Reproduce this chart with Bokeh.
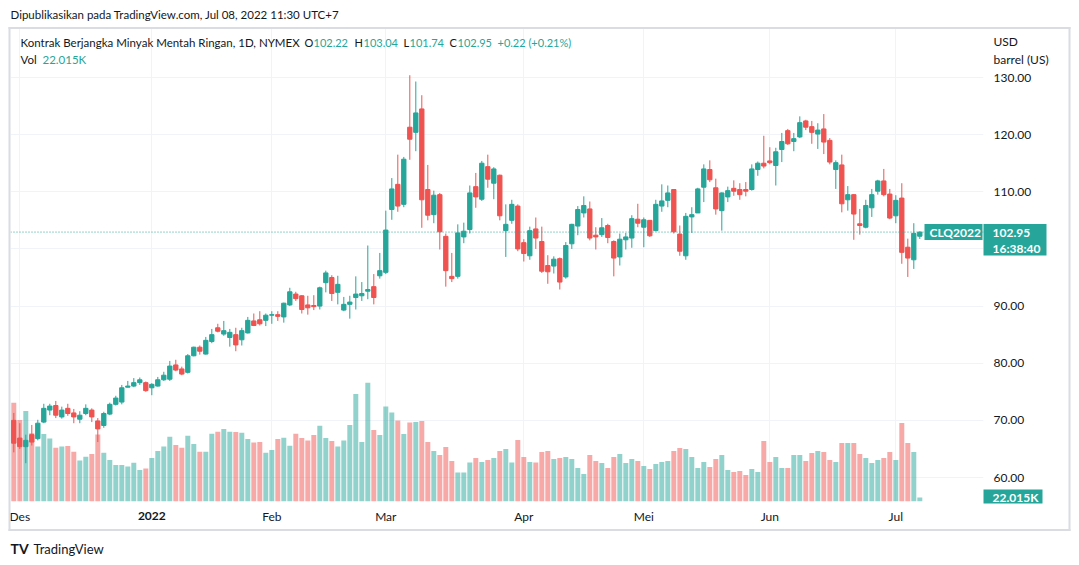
from bokeh.plotting import figure
from bokeh.models import Range1d, FixedTicker, Span, ColumnDataSource, PrintfTickFormatter
from bokeh.core.properties import value
from bokeh.embed import file_html
from bokeh.resources import INLINE

# ---------------- data ----------------
opens = [70.0, 66.9, 65.4, 67.5, 66.8, 69.7, 71.8, 72.6, 70.6, 72.1,
         71.3, 70.2, 71.2, 71.8, 69.9, 69.1, 71.1, 72.8, 73.2, 75.8,
         76.0, 76.6, 76.6, 75.7, 76.0, 77.1, 77.2, 79.7, 79.0, 78.4,
         81.3, 82.8, 81.6, 83.8, 86.2, 85.1, 84.5, 85.0, 84.1, 85.3,
         87.4, 87.6, 87.5, 88.4, 88.5, 88.1, 90.2, 92.1, 91.8, 90.2,
         90.1, 90.0, 94.1, 95.0, 92.4, 89.3, 90.3, 91.5, 91.8, 92.6,
         93.4, 95.3, 95.9, 106.9, 111.3, 107.8, 121.3, 120.4, 124.5, 110.4,
         106.0, 109.5, 102.2, 95.2, 95.2, 102.1, 103.4, 110.9, 108.7, 114.4,
         111.5, 112.9, 103.2, 105.0, 107.5, 101.1, 98.8, 103.5, 101.3, 97.1,
         97.0, 98.3, 95.1, 100.9, 104.0, 106.3, 107.0, 102.4, 102.5, 104.1,
         101.3, 98.6, 101.6, 101.9, 105.2, 103.8, 105.0, 103.2, 107.5, 108.5,
         110.4, 102.6, 98.8, 105.6, 106.3, 110.8, 113.9, 110.7, 106.7, 109.1,
         110.6, 110.4, 110.4, 110.4, 113.9, 115.0, 115.4, 114.6, 117.4, 120.7,
         118.8, 119.6, 122.4, 121.4, 120.1, 121.0, 119.0, 113.9, 114.7, 108.6,
         109.5, 104.4, 103.8, 107.2, 110.1, 111.9, 109.6, 105.8, 108.9, 100.3,
         98.1, 102.22]
highs = [71.3, 69.5, 67.5, 69.2, 70.1, 72.9, 72.9, 73.4, 72.4, 72.9,
         72.0, 71.6, 72.8, 72.1, 70.4, 71.5, 73.1, 74.3, 76.2, 76.9,
         77.4, 77.5, 76.8, 76.5, 77.6, 78.5, 80.4, 80.6, 79.4, 81.6,
         82.9, 83.1, 84.6, 86.0, 86.9, 87.4, 86.0, 86.2, 86.2, 88.1,
         88.7, 89.1, 88.7, 89.1, 89.1, 90.6, 93.2, 92.5, 91.9, 91.8,
         91.9, 93.4, 96.2, 95.4, 95.3, 91.6, 91.8, 95.2, 94.2, 100.6,
         95.6, 99.3, 106.7, 112.4, 116.5, 116.1, 130.4, 129.3, 126.9, 114.7,
         110.2, 109.8, 102.7, 99.3, 104.3, 104.6, 111.1, 113.3, 115.4, 116.5,
         114.3, 113.0, 107.8, 108.6, 107.8, 101.7, 103.9, 105.5, 103.9, 98.9,
         98.7, 98.5, 101.2, 104.4, 107.5, 109.2, 108.3, 103.8, 105.4, 104.4,
         101.5, 102.7, 102.8, 105.9, 107.9, 105.5, 105.0, 108.6, 111.3, 111.1,
         110.4, 104.1, 106.3, 107.3, 110.7, 114.8, 115.5, 112.3, 109.9, 110.9,
         112.0, 111.5, 111.7, 114.8, 115.3, 119.8, 117.8, 117.7, 120.3, 121.0,
         120.3, 123.2, 122.6, 122.4, 122.0, 123.6, 119.4, 115.5, 116.5, 111.0,
         109.6, 107.0, 108.6, 110.5, 112.1, 114.0, 110.5, 109.4, 111.5, 101.8,
         104.5, 103.04]
lows = [64.4, 65.0, 62.5, 65.6, 66.5, 69.5, 70.9, 70.4, 70.3, 70.8,
        69.5, 69.5, 70.9, 69.7, 66.2, 68.7, 70.9, 72.6, 72.8, 75.8,
        75.8, 76.2, 75.0, 74.4, 75.9, 76.9, 76.9, 78.6, 77.9, 78.2,
        81.2, 81.5, 81.5, 83.5, 85.4, 84.8, 82.9, 82.1, 83.1, 85.2,
        86.5, 86.6, 86.5, 86.9, 87.4, 87.1, 90.0, 90.9, 88.7, 88.5,
        89.3, 89.4, 92.4, 90.9, 90.3, 89.1, 87.8, 89.4, 90.9, 91.2,
        90.3, 94.8, 95.6, 105.1, 106.5, 107.3, 115.6, 117.1, 103.7, 105.0,
        104.5, 99.9, 93.4, 94.2, 94.8, 101.0, 102.7, 107.2, 108.4, 110.7,
        108.7, 105.0, 98.6, 104.4, 99.6, 97.8, 98.1, 100.0, 95.8, 93.9,
        95.7, 92.9, 94.8, 100.0, 102.4, 105.5, 101.5, 99.9, 102.1, 101.0,
        95.2, 97.1, 99.9, 100.2, 103.8, 100.3, 102.1, 103.1, 106.5, 107.3,
        102.7, 98.8, 98.1, 102.8, 106.3, 108.2, 111.7, 106.0, 103.2, 108.2,
        109.3, 108.6, 109.2, 110.2, 112.8, 114.1, 114.8, 111.1, 115.2, 118.2,
        117.1, 119.4, 120.8, 118.4, 117.5, 116.6, 114.8, 110.5, 106.4, 106.7,
        101.6, 102.5, 103.6, 105.6, 109.5, 109.2, 105.2, 104.5, 97.4, 95.1,
        96.5, 101.74]
closes = [66.0, 65.4, 66.5, 66.2, 69.5, 72.1, 72.5, 70.9, 71.8, 71.2,
          70.6, 70.9, 72.1, 70.6, 68.5, 71.2, 72.8, 73.9, 75.7, 76.0,
          76.6, 77.1, 75.2, 76.3, 77.1, 77.9, 79.5, 78.8, 78.1, 81.3,
          82.8, 82.1, 84.0, 85.0, 85.6, 85.7, 85.4, 83.2, 85.7, 87.5,
          86.6, 86.9, 88.4, 88.5, 88.2, 90.5, 92.5, 91.3, 89.4, 89.7,
          89.9, 93.2, 95.8, 92.2, 93.8, 90.3, 90.7, 92.1, 92.2, 92.9,
          91.5, 96.2, 103.3, 110.5, 107.5, 115.7, 119.2, 123.8, 108.6, 105.9,
          109.4, 103.0, 96.2, 94.8, 102.8, 103.1, 109.8, 109.1, 115.0, 112.2,
          114.0, 105.8, 104.3, 107.8, 100.0, 99.2, 103.2, 101.9, 96.1, 96.0,
          98.2, 94.2, 100.6, 104.3, 106.9, 107.6, 101.9, 102.1, 103.7, 102.0,
          98.4, 101.7, 102.1, 105.3, 104.5, 105.1, 102.3, 107.8, 108.4, 109.8,
          103.0, 99.6, 105.7, 106.0, 110.5, 114.0, 112.1, 107.0, 109.8, 110.2,
          110.1, 109.5, 110.1, 114.0, 115.0, 114.5, 115.1, 117.0, 118.8, 118.4,
          119.3, 122.1, 121.3, 120.4, 120.8, 118.7, 115.2, 115.1, 107.9, 109.5,
          106.1, 104.1, 107.6, 109.5, 111.9, 109.5, 105.4, 108.5, 99.4, 98.4,
          102.73, 102.95]
volumes_k = [543, 448, 498, 375, 302, 371, 347, 296, 302, 305,
             274, 225, 246, 261, 369, 268, 228, 201, 201, 192,
             213, 173, 181, 239, 278, 302, 356, 311, 296, 362,
             316, 274, 274, 373, 384, 399, 384, 382, 378, 344,
             324, 327, 268, 283, 344, 351, 307, 373, 349, 335,
             366, 417, 349, 333, 302, 335, 421, 591, 327, 653,
             393, 366, 522, 489, 445, 371, 434, 437, 443, 327,
             278, 256, 300, 223, 159, 159, 214, 239, 217, 228,
             239, 278, 289, 214, 338, 245, 217, 214, 272, 278,
             234, 239, 245, 234, 184, 151, 256, 223, 212, 184,
             245, 261, 212, 234, 223, 195, 179, 206, 217, 223,
             278, 294, 289, 245, 184, 217, 190, 234, 256, 173,
             162, 168, 146, 179, 162, 333, 217, 245, 184, 184,
             256, 256, 223, 267, 278, 272, 228, 217, 322, 322,
             322, 261, 239, 212, 228, 239, 272, 228, 432, 322,
             272, 22.015]

month_ticks = [1, 23, 43, 62, 85, 105, 126, 147]
month_labels = ["Des", "2022", "Feb", "Mar", "Apr", "Mei", "Jun", "Jul"]
price_ticks = [60, 70, 80, 90, 100, 110, 120, 130]
symbol = "CLQ2022"
title_text = "Kontrak Berjangka Minyak Mentah Ringan, 1D, NYMEX"
published_text = "Dipublikasikan pada TradingView.com, Jul 08, 2022 11:30 UTC+7"
countdown = "16:38:40"
unit_lines = ["USD", "barrel (US)"]

# ---------------- styling ----------------
UP = "#26a69a"
DOWN = "#ef5350"
TXT = "#131722"
GRID = "#f0f3fa"
BORDER = "#d9dce3"
FONT = "Lato"

n = len(closes)
idx = list(range(n))
colors = [UP if c >= o else DOWN for o, c in zip(opens, closes)]
src = ColumnDataSource(dict(
    x=idx, o=opens, h=highs, l=lows, c=closes,
    top=[max(o, c) for o, c in zip(opens, closes)],
    bot=[min(o, c) for o, c in zip(opens, closes)],
    vol=volumes_k, color=colors))

# page geometry of the price pane
FL, FR, FT, FB = 10, 983, 28, 501
W, H = 1075, 560
X0, XPPU = -0.55, 6.0
Y0, Y1 = 55.80, 138.575
YPPU = (FB - FT) / (Y1 - Y0)

p = figure(width=W, height=H, output_backend="svg", toolbar_location=None,
           x_range=Range1d(X0, X0 + (FR - FL) / XPPU), y_range=Range1d(Y0, Y1),
           y_axis_location="right",
           min_border_left=FL, min_border_right=W - FR,
           min_border_top=FT, min_border_bottom=H - FB)
p.extra_y_ranges = {"vol": Range1d(0, (FB - FT) * 5.5)}
p.outline_line_color = None
p.background_fill_color = "white"
p.border_fill_color = "white"


def xd(px):
    return X0 + (px - FL) / XPPU


def yd(py):
    return Y0 + (FB - py) / YPPU


# grid
p.xgrid.ticker = FixedTicker(ticks=month_ticks)
p.ygrid.ticker = FixedTicker(ticks=price_ticks)
p.xgrid.grid_line_color = GRID
p.ygrid.grid_line_color = GRID

# volume
p.vbar(x="x", width=0.83, top="vol", bottom=0, y_range_name="vol",
       fill_color="color", fill_alpha=0.5, line_color=None, source=src)

# candles
p.segment(x0="x", y0="l", x1="x", y1="h", line_color="color", line_width=1, source=src)
p.vbar(x="x", width=0.72, top="top", bottom="bot", fill_color="color",
       line_color="color", line_width=1, source=src)

# last price dotted line
p.add_layout(Span(location=closes[-1], dimension="width", line_color=UP,
                  line_dash="1 2", line_width=1))

# axes
xa = p.xaxis[0]
xa.ticker = FixedTicker(ticks=month_ticks)
xa.major_label_overrides = {t: ("" if lab == "2022" else lab) for t, lab in zip(month_ticks, month_labels)}
ya = p.yaxis[0]
ya.ticker = FixedTicker(ticks=price_ticks)
ya.formatter = PrintfTickFormatter(format="%.2f")
ya.major_label_overrides = {100: ""}
for ax in (xa, ya):
    ax.axis_line_color = None
    ax.major_tick_line_color = None
    ax.minor_tick_line_color = None
    ax.major_tick_out = 0
    ax.major_tick_in = 0
    ax.major_label_text_font = FONT
    ax.major_label_text_font_size = "12px"
    ax.major_label_text_color = TXT
xa.major_label_standoff = 7
ya.major_label_standoff = 10


def txt(t, x, y, color=TXT, size="12px", bold=False, align="left"):
    p.text(x=[x], y=[y], text=[t], text_color=color, text_font=value(FONT),
           text_font_size=value(size), text_font_style="bold" if bold else "normal",
           text_align=align, text_baseline="middle", level="overlay")


def box(x0, x1, y0, y1, fill=UP):
    p.quad(left=[x0], right=[x1], bottom=[y0], top=[y1], fill_color=fill,
           line_color=None, level="overlay")


# outer border of the chart card (four thin strips)
box(xd(8), xd(1070), yd(28.5), yd(26.5), fill=BORDER)
box(xd(8), xd(1070), yd(530.5), yd(528.5), fill=BORDER)
box(xd(8), xd(10), yd(530.5), yd(26.5), fill=BORDER)
box(xd(1068), xd(1070), yd(530.5), yd(26.5), fill=BORDER)

# bold year label on the time axis
txt(month_labels[1], month_ticks[1], yd(515), bold=True, align="center")

# header texts
txt(published_text, xd(10), yd(14), size="11.5px")
txt(title_text, xd(20), yd(42), size="11.5px")
chg = closes[-1] - closes[-2]
pct = chg / closes[-2] * 100
pieces = [("O", 304, TXT), (f"{opens[-1]:.2f}", 313, UP),
          ("H", 354, TXT), (f"{highs[-1]:.2f}", 363, UP),
          ("L", 403, TXT), (f"{lows[-1]:.2f}", 409, UP),
          ("C", 449, TXT), (f"{closes[-1]:.2f}", 457, UP),
          (f"{chg:+.2f} ({pct:+.2f}%)", 497, UP)]
for t, px, col in pieces:
    txt(t, xd(px), yd(42), color=col, size="11px")
txt("Vol", xd(20), yd(59), size="11.5px")
txt(f"{volumes_k[-1]:.3f}K", xd(42), yd(59), color=UP, size="11.5px")

# price scale unit
txt(unit_lines[0], xd(993), yd(41))
txt(unit_lines[1], xd(993), yd(59))

# symbol label and last price box
last = closes[-1]
box(xd(924), xd(982), last - 8 / YPPU, last + 8 / YPPU)
txt(symbol, xd(929), last, color="white", bold=True)
box(xd(983), xd(1046), last - 23.5 / YPPU, last + 8 / YPPU)
txt(f"{last:.2f}", xd(992), last - 1 / YPPU, color="white", bold=True)
txt(countdown, xd(992), last - 16 / YPPU, color="white", bold=True)

# volume box on the scale
box(xd(983), xd(1042), yd(503), yd(489))
txt(f"{volumes_k[-1]:.3f}K", xd(992), yd(497), color="white", bold=True)

# logo
txt("TV", xd(10), yd(548), size="14px", bold=True)
txt("TradingView", xd(33), yd(548), size="13px")

open("out.html", "w").write(file_html(p, INLINE))
